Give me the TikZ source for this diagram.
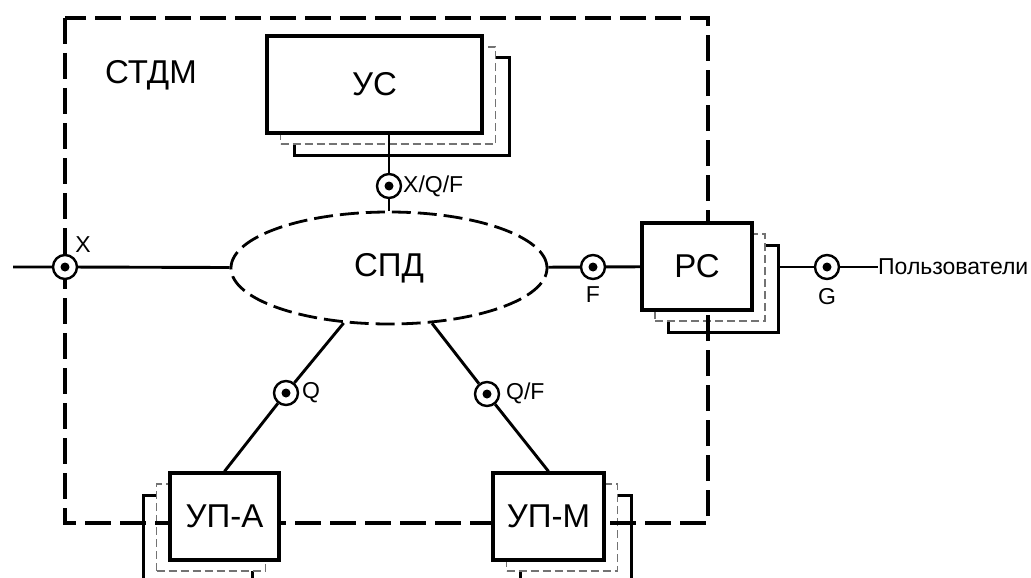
\documentclass[tikz,border=0pt]{standalone}
\usepackage{fontspec}
\setmainfont{Liberation Sans}
\usetikzlibrary{shapes.geometric,calc}

\tikzset{
  bigtext/.style={font=\fontsize{33}{36}\selectfont},
  mainbox/.style={draw,line width=3.3pt,fill=white,inner sep=0pt,bigtext},
  backsolid/.style={draw,line width=3pt,fill=white,inner sep=0pt},
  backdash/.style={draw=black!55,line width=1.8pt,dash pattern=on 8pt off 4pt,
                   fill=white,inner sep=0pt},
  bound/.style={line width=3.3pt,dash pattern=on 26pt off 9pt},
  refpt/.style={circle,draw,line width=2.4pt,fill=white,minimum size=24pt,inner sep=0pt,
                path picture={\fill[black] (path picture bounding box.center) circle (4.5pt);}},
  lbl/.style={font=\fontsize{23}{25}\selectfont,inner sep=0pt},
  conn/.style={line width=2.9pt},
}

\begin{document}
\begin{tikzpicture}[x=1pt,y=-1pt]
\useasboundingbox (0,0) rectangle (1031,578);
\clip (0,0) rectangle (1031,578);

% box/centre x/centre y/width/height/shadow step/label
\def\boxes{us/374.5/84.5/215/97/13.5/УС, pc/697/266.5/110/87/13/РС,
           upa/224.5/516.5/109/87/-13.5/УП-А, upm/548.5/516.5/111/87/13.5/УП-М}

% stacked copies behind each box
\foreach \nm/\cx/\cy/\w/\h/\dx/\txt in \boxes {
  \node[backsolid,minimum width=\w pt,minimum height=\h pt] (\nm-b2)
    at ({\cx+2*\dx},{\cy+22}) {};
  \node[backdash,minimum width=\w pt,minimum height=\h pt] (\nm-b1)
    at ({\cx+\dx},{\cy+11}) {};
}

% system boundary
\draw[bound] (65,18) rectangle (708,523);

\foreach \nm/\cx/\cy/\w/\h/\dx/\txt in \boxes
  \node[mainbox,minimum width=\w pt,minimum height=\h pt] (\nm) at (\cx,\cy) {\txt};

\node[ellipse,draw,line width=2.8pt,dash pattern=on 19pt off 7pt,fill=white,
      minimum width=316pt,minimum height=112pt,inner sep=0pt,bigtext] (spd) at (389,268) {СПД};

\node[bigtext] (stdm) at (151,75) {СТДМ};

% reference points
\foreach \nm/\px/\py in {ptX/65/267, ptXQF/389/186, ptF/593/267,
                         ptG/827/267, ptQ/286/393, ptQF/487/394}
  \node[refpt] (\nm) at (\px,\py) {};

\node[lbl] (lX) at (83,245) {X};
\node[lbl,anchor=west] (lXQF) at (403,186) {X/Q/F};
\node[lbl] (lF) at (593,295) {F};
\node[lbl] (lG) at (827,297) {G};
\node[lbl,anchor=west] (lQ) at (302,393) {Q};
\node[lbl,anchor=west] (lQF) at (506,393) {Q/F};
\node[lbl,anchor=west] (users) at (878,267) {Пользователи};

% connectors
\coordinate (xin) at (13,267);
\draw[conn] (xin) -- (ptX) -- (spd);
\draw[conn] (spd) -- (ptXQF) -- (ptXQF |- us.south);
\draw[conn] (spd) -- (ptF) -- (pc);
\draw[conn] (pc-b2.east |- ptG) -- (ptG) -- (users);
\draw[conn] (spd) -- (ptQ) -- (upa.north);
\draw[conn] (spd) -- (ptQF) -- (upm.north);
\end{tikzpicture}
\end{document}
